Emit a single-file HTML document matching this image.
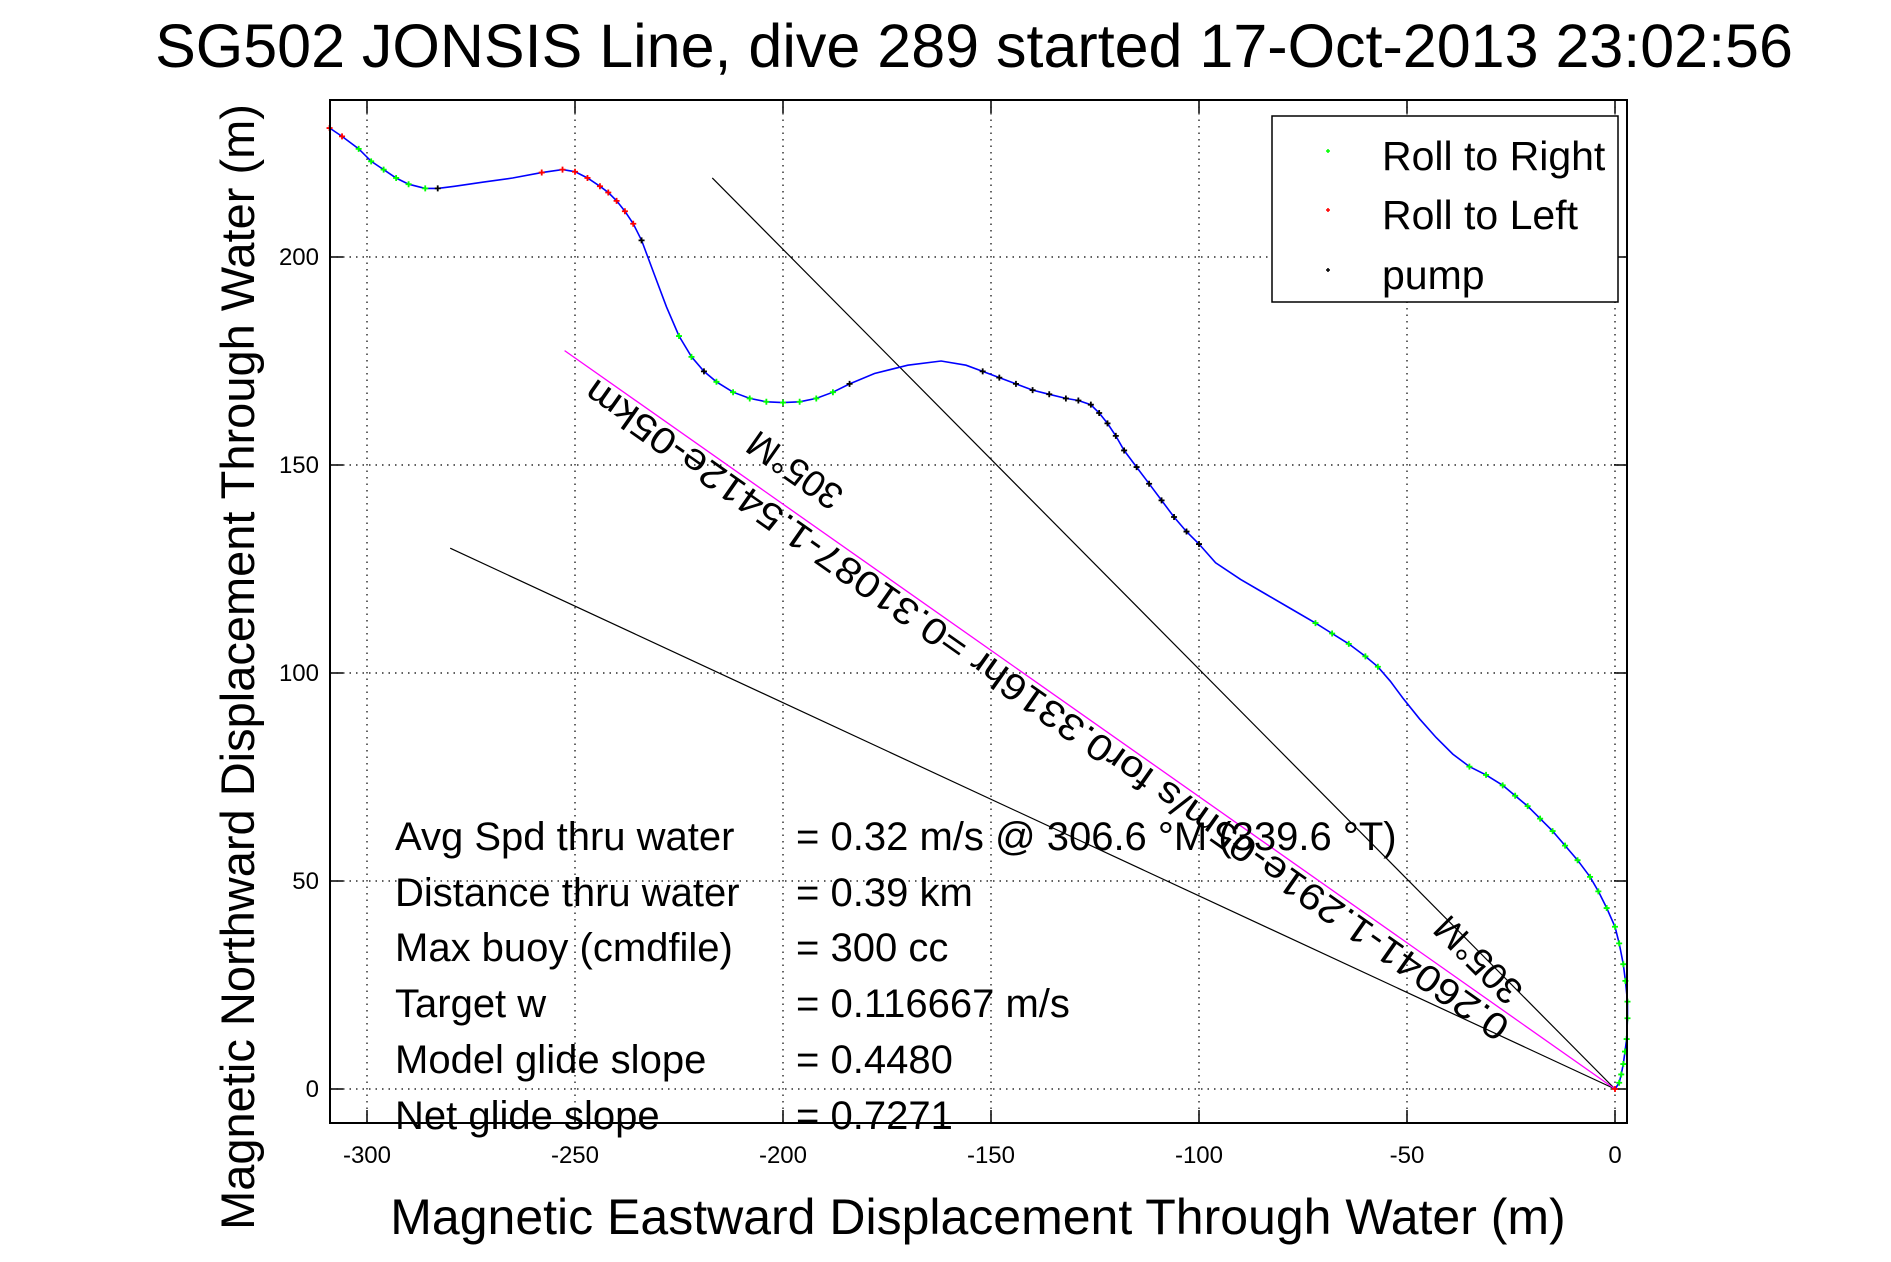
<!DOCTYPE html>
<html><head><meta charset="utf-8"><style>
html,body{margin:0;padding:0;background:#fff}
svg{display:block}
text{font-family:"Liberation Sans",sans-serif;fill:#000}
</style></head><body>
<svg id="chart" width="1891" height="1262" viewBox="0 0 1891 1262" xmlns="http://www.w3.org/2000/svg">
<rect width="1891" height="1262" fill="#fff"/>
<text x="974" y="67" font-size="61" text-anchor="middle">SG502 JONSIS Line, dive 289 started 17-Oct-2013 23:02:56</text>
<g id="grid"></g>
<g id="ticks"></g>
<g id="refl"></g>
<g id="series"></g>
<rect x="330" y="100" width="1297" height="1023" fill="none" stroke="#000" stroke-width="2"/>
<text x="978" y="1234" font-size="50" text-anchor="middle">Magnetic Eastward Displacement Through Water (m)</text>
<text x="0" y="0" font-size="47" text-anchor="middle" transform="translate(254,667) rotate(-90)">Magnetic Northward Displacement Through Water (m)</text>
<g font-size="40" xml:space="preserve">
<text x="395" y="850">Avg Spd thru water</text><text x="796" y="850">=  0.32 m/s @ 306.6  °M (339.6 °T)</text>
<text x="395" y="906">Distance thru water</text><text x="796" y="906">=  0.39 km</text>
<text x="395" y="961">Max buoy (cmdfile)</text><text x="796" y="961">= 300 cc</text>
<text x="395" y="1017">Target w</text><text x="796" y="1017">= 0.116667 m/s</text>
<text x="395" y="1073">Model glide slope</text><text x="796" y="1073">= 0.4480</text>
<text x="395" y="1129">Net glide slope</text><text x="796" y="1129">= 0.7271</text>
</g>
<g id="anno"></g>
<g>
<rect x="1272" y="116" width="346" height="186" fill="#fff" stroke="#000" stroke-width="1.5"/>
<g><path d="M1326 151h4M1328 149v4" stroke="#0f0" stroke-width="1.5"/><text x="1382" y="170" font-size="41">Roll to Right</text></g>
<g><path d="M1326 210h4M1328 208v4" stroke="#f00" stroke-width="1.5"/><text x="1382" y="229" font-size="41">Roll to Left</text></g>
<g><path d="M1326 270h4M1328 268v4" stroke="#000" stroke-width="1.5"/><text x="1382" y="289" font-size="41">pump</text></g>
</g>
</svg>
<script>
const xTicks=[-300,-250,-200,-150,-100,-50,0];
const yTicks=[0,50,100,150,200];
const trackX=[-309,-306,-302,-299,-296,-293,-290,-286,-283,-279,-272,-265,-258,-253,-250,-247,-244,-242,-240,-238,-236,-234,-231,-228,-225,-222,-219,-216,-212,-208,-204,-200,-196,-192,-188,-184,-178,-170,-162,-156,-152,-148,-144,-140,-136,-132,-129,-126,-124,-122,-120,-118,-115,-112,-109,-106,-103,-100,-96,-90,-84,-78,-72,-68,-64,-60,-57,-54,-51,-47,-43,-39,-35,-31,-27,-24,-21,-18,-15,-12,-9,-6,-4,-2,0,1,2,2.5,3,3,2.8,2.4,2,1.5,1,0];
const trackY=[231,229,226,223,221,219,217.5,216.5,216.5,217,218,219,220.3,221,220.5,219,217,215.5,213.5,211,208,204,196,188,181,176,172.5,170,167.5,166,165.2,165,165.2,166,167.5,169.5,172,174,175,174,172.5,171,169.5,168,167,166,165.5,164.5,162.5,160,157,153.5,149.5,145.5,141.5,137.5,134,131,126.5,122.5,119,115.5,112,109.5,107,104,101.5,98,94,89,84.5,80.5,77.5,75.5,73,70.5,68,65,62,58.5,55,51,47.5,43.5,39,35,30,26,21,17,12,9,6,3.5,1.5,0];
const trackType=["r","r","g","g","g","g","g","g","k","","","","r","r","r","r","r","r","r","r","r","k","","","g","g","k","g","g","g","g","g","g","g","g","k","","","","","k","k","k","k","k","k","k","k","k","k","k","k","k","k","k","k","k","k","","","","","g","g","g","g","g","","","","","","g","g","g","g","g","g","g","g","g","g","g","g","g","g","g","g","g","g","g","g","g","g","g","r"];
const lineStartsX=[-217,-280];
const lineStartsY=[219,130];
const slopeStartX=-252.5;
const slopeStartY=177.5;
const slopeText="0.26041-1.291e-05m/s for0.3316hr =0.31087-1.5412e-05km";
const headingText="305°M";

const X0=1615,Y0=1089,S=4.16;
const L=330,R=1627,T=100,B=1123;
const sx=v=>X0+v*S, sy=v=>Y0-v*S;
const NS="http://www.w3.org/2000/svg";
function mk(tag,parent,attrs){const e=document.createElementNS(NS,tag);for(const k in attrs)e.setAttribute(k,attrs[k]);parent.appendChild(e);return e;}
const grid=document.getElementById('grid'),ticks=document.getElementById('ticks');
xTicks.forEach(v=>{
  const x=sx(v);
  const g=mk('line',grid,{x1:x,y1:T,x2:x,y2:B,stroke:'#000','stroke-width':1.2,'stroke-dasharray':'1.5 5'});
  
  
  const t1=mk('line',ticks,{x1:x,y1:B,x2:x,y2:B-13,stroke:'#000','stroke-width':1.5});
  
  
  const t2=mk('line',ticks,{x1:x,y1:T,x2:x,y2:T+13,stroke:'#000','stroke-width':1.5});
  
  
  const lb=mk('text',ticks,{x:x,y:1163,'font-size':24,'text-anchor':'middle'});
  lb.textContent=v;
  
  
});
yTicks.forEach(v=>{
  const y=sy(v);
  const g=mk('line',grid,{x1:L,y1:y,x2:R,y2:y,stroke:'#000','stroke-width':1.2,'stroke-dasharray':'1.5 5'});
  
  
  const t1=mk('line',ticks,{x1:L,y1:y,x2:L+13,y2:y,stroke:'#000','stroke-width':1.5});
  
  
  const t2=mk('line',ticks,{x1:R,y1:y,x2:R-13,y2:y,stroke:'#000','stroke-width':1.5});
  
  
  const lb=mk('text',ticks,{x:319,y:y+8,'font-size':24,'text-anchor':'end'});
  lb.textContent=v;
  
  
});
const refl=document.getElementById('refl');
lineStartsX.forEach((v,i)=>{
  const l=mk('line',refl,{x1:sx(v),y1:sy(lineStartsY[i]),x2:sx(0),y2:sy(0),stroke:'#000','stroke-width':1.2});
  
  
});
const ml=mk('line',refl,{x1:sx(slopeStartX),y1:sy(slopeStartY),x2:sx(0),y2:sy(0),stroke:'#f0f','stroke-width':1.3});


const ser=document.getElementById('series');
const pts=trackX.map((v,i)=>sx(v).toFixed(1)+','+sy(trackY[i]).toFixed(1)).join(' ');
const pl=mk('polyline',ser,{points:pts,fill:'none',stroke:'#00f','stroke-width':1.6});


const col={g:'#0f0',r:'#f00',k:'#000'};
trackX.forEach((v,i)=>{
  const t=trackType[i]; if(!t) return;
  const x=sx(v),y=sy(trackY[i]);
  const m=mk('path',ser,{d:`M${x-3} ${y}h6M${x} ${y-3}v6`,stroke:col[t],'stroke-width':1.8});
  
  
});
const anno=document.getElementById('anno');
const ang=Math.atan2(slopeStartY*S,-slopeStartX*S)*180/Math.PI;
const cx=(sx(slopeStartX)+sx(0))/2-36, cy=(sy(slopeStartY)+sy(0))/2-20;
const st=mk('text',anno,{x:0,y:0,'font-size':37,'text-anchor':'middle',textLength:1120,lengthAdjust:'spacingAndGlyphs',transform:`translate(${cx},${cy}) rotate(${180+ang})`});
st.textContent=slopeText;


const h1=mk('text',anno,{x:0,y:0,'font-size':37,'text-anchor':'middle',transform:`translate(802,460) rotate(${180+ang})`});
h1.textContent=headingText;


const h2=mk('text',anno,{x:0,y:0,'font-size':37,'text-anchor':'middle',transform:`translate(1487,951) rotate(225)`});
h2.textContent=headingText;


</script>
</body></html>
